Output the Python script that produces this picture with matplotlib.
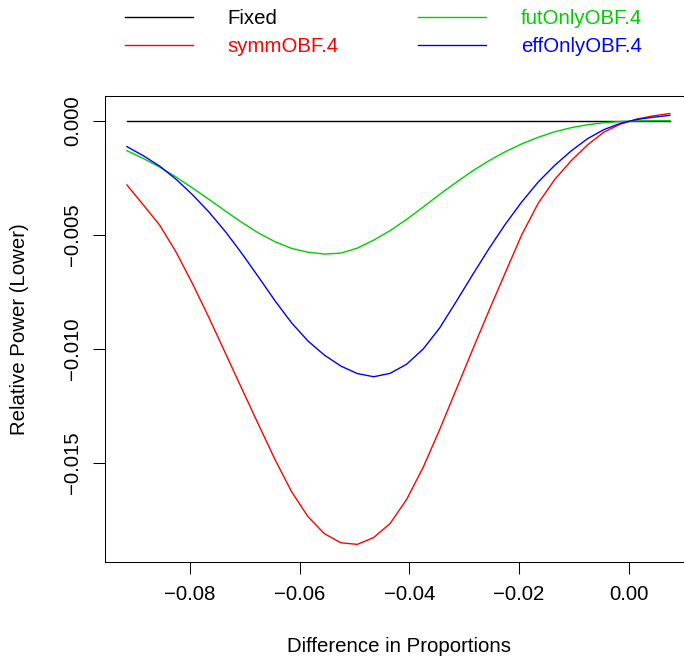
import matplotlib
matplotlib.use('Agg')
import matplotlib.pyplot as plt
from matplotlib.ticker import FixedLocator, FuncFormatter

plt.rcParams['font.family'] = ['Liberation Sans', 'DejaVu Sans']

# difference in proportions (common grid)
diff = [-0.0915, -0.0885, -0.0855, -0.0825, -0.0795, -0.0765, -0.0735, -0.0705,
        -0.0675, -0.0645, -0.0615, -0.0585, -0.0555, -0.0525, -0.0495, -0.0465,
        -0.0435, -0.0405, -0.0375, -0.0345, -0.0315, -0.0285, -0.0255, -0.0225,
        -0.0195, -0.0165, -0.0135, -0.0105, -0.0075, -0.0045, -0.0015, 0.0015,
        0.0045, 0.0075]

# relative power (lower), in units of 1e-3
fixed = [0.0] * len(diff)
symm_obf4 = [-2.82, -3.70, -4.59, -5.78, -7.17, -8.66, -10.22, -11.78,
             -13.33, -14.86, -16.26, -17.36, -18.11, -18.51, -18.58, -18.28,
             -17.66, -16.61, -15.21, -13.56, -11.81, -10.06, -8.34, -6.66,
             -5.00, -3.62, -2.58, -1.76, -1.06, -0.50, -0.15, 0.07,
             0.21, 0.31]
fut_only_obf4 = [-1.32, -1.66, -2.04, -2.48, -2.96, -3.46, -3.97, -4.47,
                 -4.93, -5.31, -5.60, -5.77, -5.85, -5.81, -5.59, -5.24,
                 -4.82, -4.33, -3.79, -3.24, -2.71, -2.21, -1.76, -1.36,
                 -1.02, -0.73, -0.49, -0.31, -0.18, -0.09, -0.04, -0.01,
                 0.0, 0.0]
eff_only_obf4 = [-1.14, -1.54, -2.00, -2.58, -3.26, -4.02, -4.88, -5.84,
                 -6.86, -7.90, -8.86, -9.66, -10.28, -10.76, -11.09, -11.23,
                 -11.08, -10.68, -10.02, -9.10, -7.95, -6.77, -5.62, -4.54,
                 -3.56, -2.69, -1.96, -1.33, -0.79, -0.39, -0.12, 0.05,
                 0.15, 0.23]

series = [('Fixed', fixed, 'black'),
          ('symmOBF.4', symm_obf4, '#FF0000'),
          ('futOnlyOBF.4', fut_only_obf4, '#00CD00'),
          ('effOnlyOBF.4', eff_only_obf4, '#0000FF')]

x_ticks = [-0.08, -0.06, -0.04, -0.02, 0.00]
y_ticks = [0.000, -0.005, -0.010, -0.015]

fs = 14.7
fig = plt.figure(figsize=(6.84, 6.58), dpi=100)
# R-style box; right edge falls just outside the saved picture
ax = fig.add_axes([105 / 684, 1 - 561.7 / 658, 589 / 684, 465.7 / 658])

for name, vals, col in series:
    ax.plot(diff, [v / 1000 for v in vals], color=col, lw=1.0, label=name)

ax.set_xlim(-0.0955, 0.0119)
ax.set_ylim(-0.01934, 0.00108)


def minus(fmt):
    return FuncFormatter(lambda v, pos: (fmt % v).replace('-', '\u2212'))


ax.xaxis.set_major_locator(FixedLocator(x_ticks))
ax.yaxis.set_major_locator(FixedLocator(y_ticks))
ax.xaxis.set_major_formatter(minus('%.2f'))
ax.yaxis.set_major_formatter(minus('%.3f'))
ax.tick_params(direction='out', length=8.6, width=0.75, pad=8, labelsize=fs)
for lab in ax.get_yticklabels():
    lab.set_rotation(90)
    lab.set_va('center')
for sp in ax.spines.values():
    sp.set_linewidth(0.75)

fig.text(399.5 / 684, 1 - 647 / 658, 'Difference in Proportions', fontsize=fs,
         ha='center', va='center')
fig.text(20 / 684, 1 - 329 / 658, 'Relative Power (Lower)', fontsize=fs,
         ha='center', va='center', rotation=90)

fig.legend(loc='upper left', bbox_to_anchor=(125 / 684, 1 - 9.3 / 658), ncol=2,
           frameon=False, fontsize=fs, borderpad=0, borderaxespad=0,
           handlelength=3.33, handletextpad=1.7, columnspacing=3.9,
           labelspacing=0.42, labelcolor='linecolor')

fig.savefig('out.png', dpi=100)
